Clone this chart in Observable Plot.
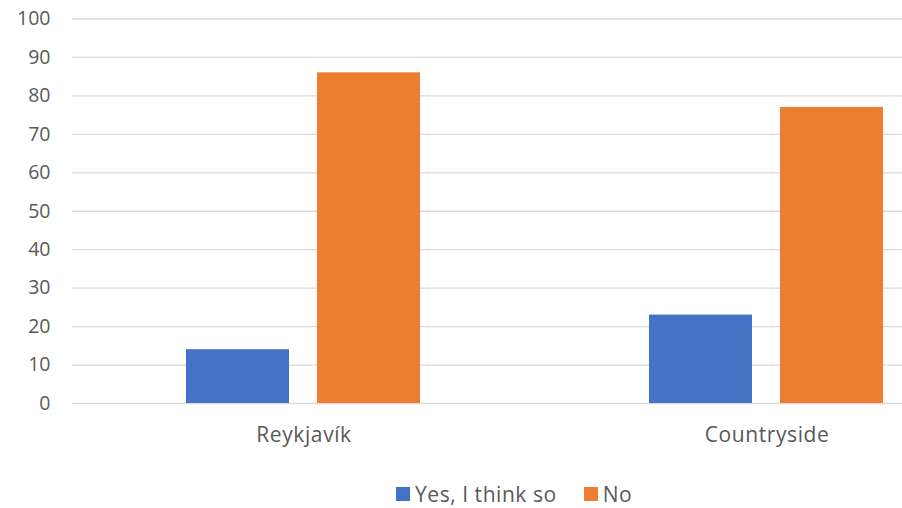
<!DOCTYPE html>
<html>
<head>
<meta charset="utf-8">
<script src="https://cdn.jsdelivr.net/npm/d3@7"></script>
<script src="https://cdn.jsdelivr.net/npm/@observablehq/plot@0.6"></script>
<style>
  html, body { margin: 0; padding: 0; background: #fff; }
  #wrap { position: relative; width: 902px; height: 508px; overflow: hidden; font-family: "Open Sans", "Noto Sans", sans-serif; }
  #legend { position: absolute; top: 480px; left: 396px; display: flex; align-items: center; font-size: 21px; letter-spacing: 0.55px; color: #595959; white-space: nowrap; }
  .sw { display: inline-block; width: 14px; height: 14px; margin-right: 5px; }
  .item { display: flex; align-items: center; margin-right: 27px; }
  .fxaxis text { letter-spacing: 0.6px; }
</style>
</head>
<body>
<div id="wrap">
  <div id="chart"></div>
  <div id="legend"></div>
</div>
<script>
const categories = ["Reykjavík", "Countryside"];
const seriesNames = ["Yes, I think so", "No"];
const yesValues = [14, 23];
const noValues = [86, 77];
const yTicks = [0, 10, 20, 30, 40, 50, 60, 70, 80, 90, 100];
const colors = ["#4472C4", "#ED7D31"];

const data = categories.flatMap((c, i) => [
  {category: c, series: seriesNames[0], value: yesValues[i]},
  {category: c, series: seriesNames[1], value: noValues[i]}
]);

const chart = Plot.plot({
  width: 902,
  height: 460,
  marginLeft: 72,
  marginRight: -96,
  marginTop: 18.5,
  marginBottom: 57,
  style: {fontFamily: '"Open Sans", "Noto Sans", sans-serif', fontSize: "19px", color: "#595959", background: "#fff"},
  fx: {domain: categories, padding: 0, label: null},
  x: {domain: seriesNames, paddingInner: 0.21, paddingOuter: 0.86, axis: null},
  y: {domain: [0, 100], label: null},
  color: {domain: seriesNames, range: colors},
  marks: [
    Plot.gridY(yTicks, {stroke: "#d9d9d9", strokeOpacity: 1, strokeWidth: 1.3}),
    Plot.axisY(yTicks, {tickSize: 0, tickPadding: 22, fontSize: 19.5, label: null}),
    Plot.axisFx({anchor: "bottom", tickSize: 0, tickPadding: 24, fontSize: 21, label: null, className: "fxaxis"}),
    Plot.barY(data, {fx: "category", x: "series", y: "value", fill: "series"})
  ]
});
document.getElementById("chart").appendChild(chart);

const legend = document.getElementById("legend");
seriesNames.forEach((s, i) => {
  const item = document.createElement("span");
  item.className = "item";
  const sw = document.createElement("span");
  sw.className = "sw";
  sw.style.background = colors[i];
  item.appendChild(sw);
  item.appendChild(document.createTextNode(s));
  legend.appendChild(item);
});
</script>
</body>
</html>
